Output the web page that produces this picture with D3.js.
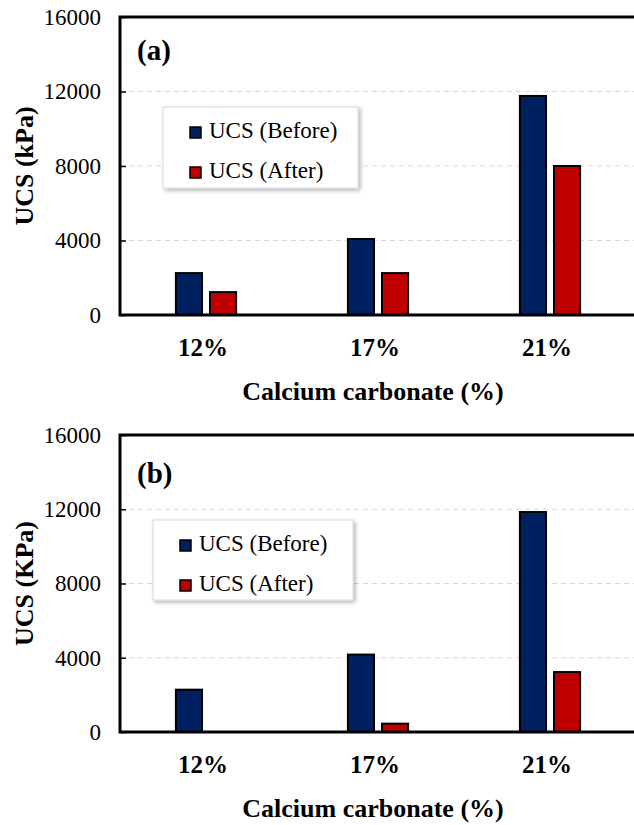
<html lang="en">
  <head>
    <meta charset="UTF-8" />
    <title>UCS before and after</title>
    <script src="https://d3js.org/d3.v7.min.js"></script>
    <style>
      body {
        margin: 0px;
        overflow: hidden;
        background: #fff;
      }
    </style>
  </head>
  <body>
    <svg width="634" height="825"></svg>
    <script>
      // data
      var categories = ["12%", "17%", "21%"];
      var seriesNames = ["UCS (Before)", "UCS (After)"];
      var colors = ["#002060", "#C00000"];
      var yTicks = [0, 4000, 8000, 12000, 16000];

      var beforeA = [2250, 4080, 11760];
      var afterA = [1230, 2250, 8000];
      var beforeB = [2280, 4170, 11850];
      var afterB = [0, 450, 3230];

      var FONT = "Liberation Serif";

      var svg = d3.select("svg");

      // shadow for legend box
      var defs = svg.append("defs");
      var f = defs.append("filter").attr("id", "shadow")
        .attr("x", "-10%").attr("y", "-10%").attr("width", "130%").attr("height", "140%");
      f.append("feDropShadow").attr("dx", 2).attr("dy", 2)
        .attr("stdDeviation", 2).attr("flood-color", "#000").attr("flood-opacity", 0.3);

      var panels = [
        { tag: "(a)", yTitle: "UCS (kPa)", before: beforeA, after: afterA,
          top: 17, bottom: 315, tagY: 60, legX: 163, legY: 107, legW: 195, legH: 81 },
        { tag: "(b)", yTitle: "UCS (KPa)", before: beforeB, after: afterB,
          top: 435, bottom: 732, tagY: 483, legX: 153, legY: 520, legW: 200, legH: 80 }
      ];

      var left = 120;
      var plotW = 516;

      panels.forEach(drawPanel);

      function font(sel, size, bold) {
        sel.attr("font-family", FONT)
          .style("font-family", FONT)
          .style("font-size", size + "px")
          .style("font-weight", bold ? "bold" : "normal")
          .attr("fill", "#000");
      }

      function drawPanel(p) {
        var h = p.bottom - p.top;
        var g = svg.append("g").attr("transform", `translate(${left}, ${p.top})`);

        var y = d3.scaleLinear().domain([0, 16000]).range([h, 0]);
        var x0 = d3.scaleBand().domain(categories).range([0, plotW])
          .paddingInner(0.65).paddingOuter(0.325);
        var x1 = d3.scaleBand().domain(seriesNames).range([0, x0.bandwidth()])
          .paddingInner(0.235);

        // gridlines
        g.append("g").selectAll("line")
          .data(yTicks.filter(function (d) { return d > 0 && d < 16000; }))
          .enter().append("line")
          .attr("x1", 0).attr("x2", plotW + 20)
          .attr("y1", function (d) { return y(d); })
          .attr("y2", function (d) { return y(d); })
          .attr("stroke", "#d9d9d9").attr("stroke-width", 1)
          .attr("stroke-dasharray", "5,4");

        // y axis
        var yAxis = g.append("g").call(
          d3.axisLeft(y).tickValues(yTicks).tickSizeInner(-6).tickSizeOuter(0)
            .tickPadding(19).tickFormat(d3.format("d"))
        );
        yAxis.attr("font-family", FONT);
        yAxis.select(".domain").remove();
        yAxis.selectAll(".tick line").attr("stroke", "#000").attr("stroke-width", 1.5);
        font(yAxis.selectAll(".tick text"), 23, false);

        // bars
        var rows = categories.map(function (c, i) {
          return [
            { cat: c, s: seriesNames[0], v: p.before[i], col: colors[0] },
            { cat: c, s: seriesNames[1], v: p.after[i], col: colors[1] }
          ];
        });
        g.append("g").selectAll("g").data(rows).enter().append("g")
          .attr("transform", function (d) { return `translate(${x0(d[0].cat)}, 0)`; })
          .selectAll("rect")
          .data(function (d) { return d.filter(function (e) { return e.v > 0; }); })
          .enter().append("rect")
          .attr("x", function (d) { return x1(d.s); })
          .attr("y", function (d) { return y(d.v); })
          .attr("width", x1.bandwidth())
          .attr("height", function (d) { return h - y(d.v); })
          .attr("fill", function (d) { return d.col; })
          .attr("stroke", "#000").attr("stroke-width", 2);

        // frame: left, top, bottom
        g.append("path")
          .attr("d", `M${plotW + 20},0 L0,0 L0,${h} L${plotW + 20},${h}`)
          .attr("fill", "none").attr("stroke", "#000").attr("stroke-width", 3);

        // category labels
        g.append("g").selectAll("text").data(categories).enter().append("text")
          .attr("x", function (d) { return x0(d) + x0.bandwidth() / 2 - 3; })
          .attr("y", h + 41)
          .attr("text-anchor", "middle")
          .text(function (d) { return d; })
          .call(font, 25, true);

        // x title
        g.append("text")
          .attr("x", 253).attr("y", h + 85)
          .attr("text-anchor", "middle")
          .text("Calcium carbonate (%)")
          .call(font, 26, true);

        // y title
        svg.append("text")
          .attr("transform", `translate(33, ${(p.top + p.bottom) / 2}) rotate(-90)`)
          .attr("text-anchor", "middle")
          .text(p.yTitle)
          .call(font, 26, true);

        // panel tag
        svg.append("text")
          .attr("x", 137).attr("y", p.tagY)
          .text(p.tag)
          .call(font, 29, true);

        // legend
        var lg = svg.append("g").attr("transform", `translate(${p.legX}, ${p.legY})`);
        lg.append("rect")
          .attr("width", p.legW).attr("height", p.legH)
          .attr("fill", "#fff").attr("stroke", "#d9d9d9").attr("stroke-width", 1)
          .attr("filter", "url(#shadow)");
        var item = lg.selectAll("g.item").data(seriesNames).enter().append("g")
          .attr("class", "item")
          .attr("transform", function (d, i) { return `translate(27, ${20 + i * 40})`; });
        item.append("rect")
          .attr("width", 11).attr("height", 11)
          .attr("fill", function (d, i) { return colors[i]; })
          .attr("stroke", "#000").attr("stroke-width", 1.5);
        item.append("text")
          .attr("x", 19).attr("y", 11)
          .text(function (d) { return d; })
          .call(font, 23, false);
      }
    </script>
  </body>
</html>
